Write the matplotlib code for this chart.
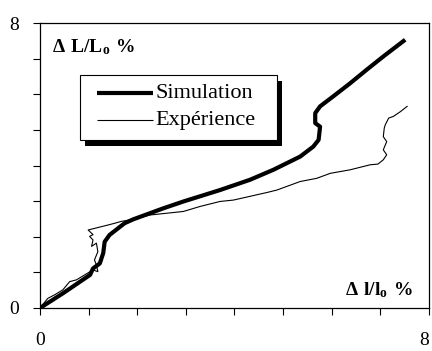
import matplotlib
matplotlib.use("Agg")
import matplotlib.pyplot as plt
from matplotlib.patches import Rectangle

plt.rcParams["font.family"] = ["Liberation Serif", "DejaVu Serif"]
plt.rcParams["mathtext.fontset"] = "custom"
plt.rcParams["mathtext.rm"] = "Liberation Serif"
plt.rcParams["mathtext.bf"] = "Liberation Serif:bold"

# strain curves (dl/l0 %, dL/L0 %)
sim_x = [0, 0.48, 1.03, 1.09, 1.23, 1.30, 1.33, 1.43, 1.74, 1.92, 2.54, 2.95,
         3.70, 4.32, 4.80, 5.35, 5.62, 5.73, 5.76, 5.66, 5.66, 5.76, 6.03,
         6.38, 6.72, 7.06, 7.51]
sim_y = [0, 0.42, 0.93, 1.11, 1.25, 1.54, 1.86, 2.05, 2.38, 2.49, 2.80, 2.99,
         3.31, 3.60, 3.88, 4.25, 4.53, 4.72, 5.09, 5.19, 5.47, 5.66, 5.94,
         6.31, 6.69, 7.06, 7.53]

exp_x = [0, 0.16, 0.30, 0.47, 0.61, 0.75, 0.92, 1.09, 1.19, 1.16, 1.12, 1.19,
         1.16, 1.06, 1.09, 1.02, 1.09, 0.99, 1.40, 1.54, 1.67, 1.92, 2.26,
         2.95, 3.29, 3.70, 3.98, 4.66, 4.87, 5.35, 5.69, 5.97, 6.38, 6.79,
         6.95, 7.06, 7.13, 7.06, 7.13, 7.06, 7.08, 7.10, 7.17, 7.27, 7.41,
         7.55]
exp_y = [0, 0.27, 0.37, 0.51, 0.74, 0.79, 0.93, 1.07, 1.02, 1.21, 1.35, 1.58,
         1.82, 1.73, 1.91, 2.01, 2.06, 2.19, 2.33, 2.38, 2.43, 2.49, 2.61,
         2.71, 2.85, 2.99, 3.03, 3.24, 3.31, 3.55, 3.64, 3.78, 3.88, 4.02,
         4.04, 4.16, 4.30, 4.44, 4.67, 4.81, 5.05, 5.14, 5.33, 5.38, 5.51,
         5.66]

labels = ["Simulation", "Expérience"]
widths = [3.0, 0.8]

fig = plt.figure(figsize=(4.32, 3.51), dpi=100)
ax = fig.add_axes([40 / 432, 43 / 351, 389 / 432, 285 / 351])

ax.plot(sim_x, sim_y, color="black", lw=widths[0], solid_capstyle="butt")
ax.plot(exp_x, exp_y, color="black", lw=widths[1])

ax.set_xlim(0, 8)
ax.set_ylim(0, 8)
ax.set_xticks(range(9))
ax.set_yticks(range(9))
ax.set_xticklabels(["0"] + [""] * 7 + ["8"])
ax.set_yticklabels(["0"] + [""] * 7 + ["8"])
ax.tick_params(axis="x", direction="out", length=5, width=0.8, pad=12,
               labelsize=14)
ax.tick_params(axis="y", direction="out", length=5, width=0.8, pad=10,
               labelsize=14)
ax.get_xticklabels()[-1].set_horizontalalignment("right")
for s in ax.spines.values():
    s.set_linewidth(0.9)

ax.text(0.031, 0.898, r"$\mathbf{\Delta\ L/L_o\ \%}$", transform=ax.transAxes,
        fontsize=14, ha="left", va="baseline")
ax.text(0.959, 0.046, r"$\mathbf{\Delta\ l/l_o\ \%}$", transform=ax.transAxes,
        fontsize=14, ha="right", va="baseline")

# legend box with solid drop shadow
bx0, bx1, by0, by1 = 0.103, 0.609, 0.589, 0.8175
ax.add_patch(Rectangle((bx0 + 0.013, by0 - 0.021), bx1 - bx0, by1 - by0,
                       transform=ax.transAxes, facecolor="black",
                       edgecolor="none", zorder=5))
ax.add_patch(Rectangle((bx0, by0), bx1 - bx0, by1 - by0,
                       transform=ax.transAxes, facecolor="white",
                       edgecolor="black", lw=0.8, zorder=6))
for i, (lab, lw) in enumerate(zip(labels, widths)):
    yl = 0.755 - i * 0.095
    ax.plot([0.1465, 0.29], [yl, yl], transform=ax.transAxes,
            color="black", lw=lw, solid_capstyle="butt", zorder=7)
    ax.text(0.297, 0.737 - i * 0.095, lab, transform=ax.transAxes,
            fontsize=16, ha="left", va="baseline", zorder=7)

fig.savefig("out.png", dpi=100)
